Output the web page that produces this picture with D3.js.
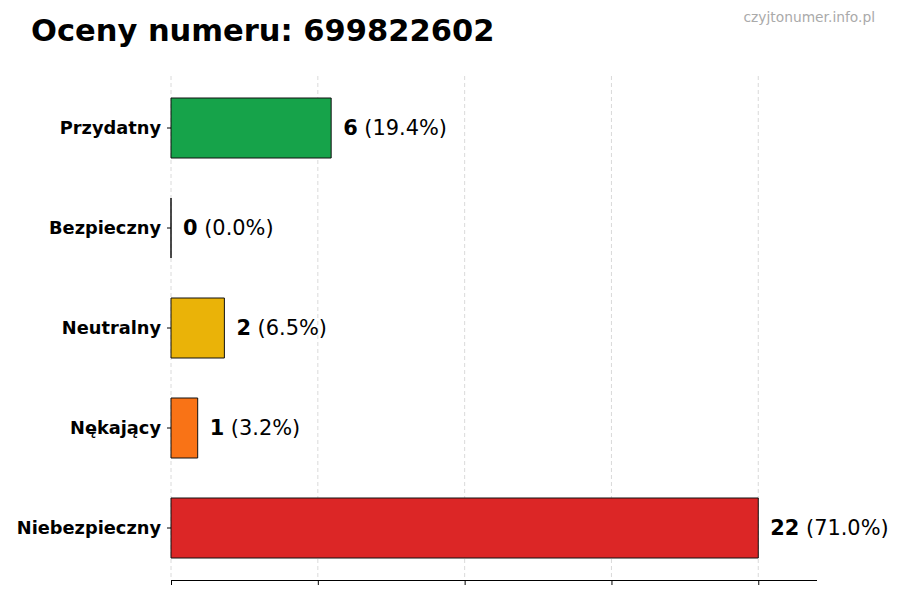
<!DOCTYPE html>
<html>
<head>
<meta charset="utf-8">
<script src="https://cdn.jsdelivr.net/npm/d3@7"></script>
<style>
  body { margin: 0; background: #fff; }
  svg { font-family: "DejaVu Sans", sans-serif; }
</style>
</head>
<body>
<svg id="chart" width="900" height="600"></svg>
<script>
// data
const categories = ["Przydatny", "Bezpieczny", "Neutralny", "Nękający", "Niebezpieczny"];
const counts = [6, 0, 2, 1, 22];
const percents = ["19.4%", "0.0%", "6.5%", "3.2%", "71.0%"];
const colors = ["#16a34a", "#3b82f6", "#eab308", "#f97316", "#dc2626"];
const xTicks = [0, 5.5, 11, 16.5, 22];

const svg = d3.select("#chart");
const plotL = 171, plotR = 817, plotT = 78, plotB = 578;

const x = d3.scaleLinear().domain([0, d3.max(counts) * 1.1]).range([plotL, plotR]);
const y = d3.scaleBand().domain(categories).range([plotT, plotB])
    .paddingInner(0.4).paddingOuter(0.2);

// dashed grid
svg.append("g").selectAll("line").data(xTicks).join("line")
    .attr("x1", d => x(d)).attr("x2", d => x(d))
    .attr("y1", 76).attr("y2", 580)
    .attr("stroke", "#d0d0d0").attr("stroke-width", 0.8)
    .attr("stroke-dasharray", "4,3");

// bars as paths so a zero-count bar still shows its edge
svg.append("g").selectAll("path").data(categories).join("path")
    .attr("d", (d, i) => {
        const w = x(counts[i]) - x(0);
        return `M${x(0)},${y(d)}h${w}v${y.bandwidth()}h${-w}Z`;
    })
    .attr("fill", (d, i) => colors[i])
    .attr("stroke", "#111").attr("stroke-width", 1);

// value labels
const lab = svg.append("g").selectAll("text").data(categories).join("text")
    .attr("x", (d, i) => x(counts[i]) + 12)
    .attr("y", d => y(d) + y.bandwidth() / 2)
    .attr("dy", "0.35em")
    .attr("font-size", 20.9)
    .attr("fill", "#000");
lab.append("tspan").attr("font-weight", "bold").text((d, i) => counts[i]);
lab.append("tspan").text((d, i) => " (" + percents[i] + ")");

// y axis (ticks + labels only)
const yAxis = svg.append("g").attr("transform", `translate(${plotL},0)`)
    .call(d3.axisLeft(y).tickSize(4).tickPadding(6));
yAxis.select(".domain").remove();
yAxis.selectAll("text").attr("font-size", 17.8).attr("font-weight", "bold")
    .attr("fill", "#000").attr("font-family", "DejaVu Sans");
yAxis.selectAll("line").attr("stroke", "#000");

// x axis (no labels)
const xAxis = svg.append("g").attr("transform", "translate(0,580)")
    .call(d3.axisBottom(x).tickValues(xTicks).tickSize(5).tickFormat(""));
xAxis.select(".domain").attr("d", `M${plotL},0.5H${plotR}`).attr("stroke", "#000");
xAxis.selectAll("line").attr("stroke", "#000");

// title + watermark
svg.append("text").attr("x", 31).attr("y", 41)
    .attr("font-size", 30.5).attr("font-weight", "bold").attr("fill", "#000")
    .text("Oceny numeru: 699822602");
svg.append("text").attr("x", 875).attr("y", 22)
    .attr("text-anchor", "end").attr("font-size", 13.8).attr("fill", "#aaa")
    .text("czyjtonumer.info.pl");
</script>
</body>
</html>
